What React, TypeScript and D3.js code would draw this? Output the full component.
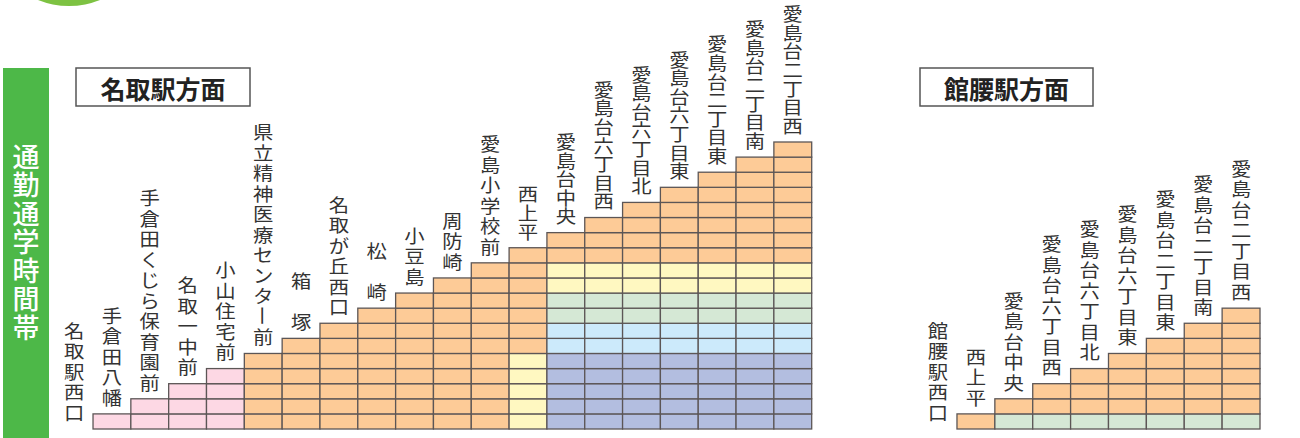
import React from "react";
import * as d3 from "d3";

// ---- data ----
const sideLabel = "通勤通学時間帯";
const leftTitle = "名取駅方面";
const rightTitle = "館腰駅方面";

const leftStops = [
  "名取駅西口", "手倉田八幡", "手倉田くじら保育園前", "名取一中前", "小山住宅前",
  "県立精神医療センター前", "箱　塚", "名取が丘西口", "松　崎", "小豆島", "周防崎",
  "愛島小学校前", "西上平", "愛島台中央", "愛島台六丁目西", "愛島台六丁目北",
  "愛島台六丁目東", "愛島台二丁目東", "愛島台二丁目南", "愛島台二丁目西",
];
// fare-band codes of each column's cells, from bottom row upward
const leftCells = [
  "", "p", "pp", "ppp", "pppp",
  "ooooo", "oooooo", "ooooooo", "oooooooo", "ooooooooo", "oooooooooo", "ooooooooooo",
  "yyyyyooooooo",
  "vvvvvbbggyyoo", "vvvvvbbggyyooo", "vvvvvbbggyyoooo", "vvvvvbbggyyooooo",
  "vvvvvbbggyyoooooo", "vvvvvbbggyyooooooo", "vvvvvbbggyyoooooooo",
];

const rightStops = [
  "館腰駅西口", "西上平", "愛島台中央", "愛島台六丁目西", "愛島台六丁目北",
  "愛島台六丁目東", "愛島台二丁目東", "愛島台二丁目南", "愛島台二丁目西",
];
const rightCells = [
  "", "o", "go", "goo", "gooo", "goooo", "gooooo", "goooooo", "gooooooo",
];

const bandCodes = ["p", "o", "y", "g", "b", "v"];
const bandColors = ["#fdd8e4", "#fdcb97", "#fff8c1", "#d5e8d5", "#cceafb", "#b3bee0"];

// ---- drawing ----
const color = d3.scaleOrdinal<string, string>().domain(bandCodes).range(bandColors);
const labelFont = "'Noto Sans CJK JP', 'Noto Sans', sans-serif";
const bottom = 429;
const yScale = d3.scaleLinear().domain([0, 19]).range([bottom, 142]);

function Staircase({ stops, cells, x0, x1, tightFrom }: { stops: string[]; cells: string[]; x0: number; x1: number; tightFrom: number }) {
  const x = d3.scaleBand<string>().domain(stops).range([x0, x1]).paddingInner(0);
  const bw = x.bandwidth();
  return (
    <g>
      {stops.map((s, j) =>
        cells[j].split("").map((c, r) => (
          <rect
            key={`${j}-${r}`}
            x={x(s)}
            y={yScale(r + 1)}
            width={bw}
            height={yScale(r) - yScale(r + 1)}
            fill={color(c)}
            stroke="#5c5656"
            strokeWidth={1.3}
          />
        ))
      )}
      {stops.map((s, j) => {
        const chars = Array.from(s);
        const top = yScale(cells[j].length);
        const inkBottom = Math.min(top - 9, bottom - 4);
        const pitch = j >= tightFrom ? 18.6 : 20.5;
        const cx = (x(s) as number) + bw / 2;
        const n = chars.length;
        return (
          <g key={`l${j}`}>
            {chars.map((ch, k) => {
              const cy = inkBottom - 8.3 - (n - 1 - k) * pitch;
              if (ch === "　") return null;
              const rot = ch === "ー" ? 90 : 0;
              return (
                <text
                  key={k}
                  transform={`translate(${cx},${cy}) rotate(${rot}) scale(1.1,1)`}
                  textAnchor="middle"
                  dominantBaseline="central"
                  fontFamily={labelFont}
                  fontSize={18.5}
                  fill="#333"
                >
                  {ch}
                </text>
              );
            })}
          </g>
        );
      })}
    </g>
  );
}

function TitleBox({ text, x, w }: { text: string; x: number; w: number }) {
  return (
    <g>
      <rect x={x} y={68} width={w} height={38} fill="#fff" stroke="#555" strokeWidth={1.5} />
      <text
        x={x + w / 2}
        y={87.5}
        textAnchor="middle"
        dominantBaseline="central"
        fontFamily={labelFont}
        fontWeight={700}
        fontSize={25}
        fill="#222"
      >
        {text}
      </text>
    </g>
  );
}

export default function App() {
  return (
    <svg width={1300} height={438} style={{ position: "absolute", left: 0, top: 0, background: "#fff" }}>
      <circle cx={69} cy={-77} r={83} fill="#7dc242" />
      <rect x={3} y={68} width={46} height={380} fill="#4db848" />
      <text
        x={26}
        y={143}
        style={{ writingMode: "vertical-rl" }}
        fontFamily={labelFont}
        fontWeight={500}
        fontSize={27}
        letterSpacing={1.5}
        fill="#fff"
      >
        {sideLabel}
      </text>
      <TitleBox text={leftTitle} x={76} w={174} />
      <TitleBox text={rightTitle} x={920} w={173} />
      <Staircase stops={leftStops} cells={leftCells} x0={55.2} x1={811.7} tightFrom={12} />
      <Staircase stops={rightStops} cells={rightCells} x0={919.1} x1={1260} tightFrom={99} />
    </svg>
  );
}
